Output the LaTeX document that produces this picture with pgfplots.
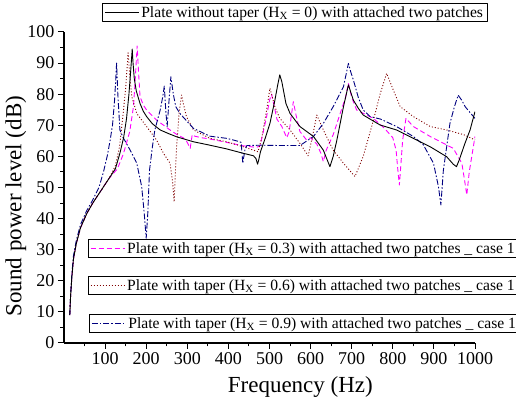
\documentclass[border=0pt]{standalone}
\usepackage{fontspec}
\setmainfont{Liberation Serif}
\newfontfamily\tnr{Liberation Serif}
\usepackage{pgfplots}
\pgfplotsset{compat=1.18}
\definecolor{cpink}{RGB}{255,0,255}
\definecolor{cwine}{RGB}{128,0,0}
\definecolor{cnavy}{RGB}{0,0,128}
\pgfplotsset{
  mylegend/.style={
    legend style={draw=black, line width=0.8pt, fill=white,
      font=\tnr\fontsize{15.6}{18}\selectfont, inner xsep=2pt, inner ysep=1pt},
    legend cell align=left,
    legend image code/.code={\draw[##1,line width=0.9pt] (0pt,0pt) -- (34pt,0pt);}
  },
  sameframe/.style={at={(64pt,60pt)}, anchor=south west, scale only axis,
    width=411pt, height=311pt},
  pinkst/.style={cpink, line width=0.9pt, dash pattern=on 5pt off 3pt},
  redst/.style={cwine, line width=0.9pt, dash pattern=on 1pt off 2pt},
  bluest/.style={cnavy, line width=0.9pt, dash pattern=on 6pt off 2pt on 1.5pt off 2pt},
  blackst/.style={black, line width=0.9pt},
}
\begin{document}
\begin{tikzpicture}
\useasboundingbox (0,0) rectangle (516pt,403pt);
\begin{axis}[sameframe,
  xmin=0, xmax=1000, ymin=0, ymax=100,
  axis x line*=bottom, axis y line*=left,
  x axis line style={-}, y axis line style={-},
  axis line style={line width=1.2pt},
  xtick={100,200,...,1000}, ytick={0,10,...,100},
  minor xtick={50,150,...,950}, minor ytick={5,15,...,95},
  tick align=outside,
  major tick length=6pt, minor tick length=3.5pt,
  every tick/.style={black, line width=1pt},
  tick label style={font=\tnr\fontsize{18}{20}\selectfont},
  /pgf/number format/assume math mode=true,
  /pgf/number format/1000 sep={},
  xlabel={Frequency (Hz)}, ylabel={Sound power level (dB)},
  label style={font=\tnr\fontsize{23}{26}\selectfont},
  xlabel style={at={(axis description cs:0.575,-0.14)}, anchor=center},
  ylabel style={at={(axis description cs:-0.117,0.44)}, anchor=center},
  line join=round,
  mylegend, legend style={at={(0.0925,1.093)}, anchor=north west},
]
\addplot[pinkst, forget plot] coordinates {
(14,9) (16,15) (19,21) (23,27) (30,32) (40,37) (55,41.5) (70,45) (90,49) (110,53)
(130,56) (145,61) (160,68) (169,76) (173,84) (176,91) (178,95.5) (181,88) (185,79.2) (193,76.5) (201,74.9) (225,71.7) (258,68.5) (275,67) (290,66) (300,64.5) (307,62.6) (312,67) (318,66.5) (335,66) (355,65.6) (396,64.5) (436,63.4) (468,62.9) (477,63.4) (485,68) (493,72.8) (500,78) (505,80) (510,77) (518,72) (530,69.6) (542,66) (548,68) (553,73) (558,77.6) (565,73) (574,68) (590,65.3) (600,66) (615,64) (625,61) (631,58.3) (638,62) (655,67) (672,73.8) (685,79) (692,83.5) (700,79) (712,74.9) (753,72.2) (780,69) (800,66) (808,62) (812,56) (816,50.8) (820,58) (824,65.3) (832,72.2) (850,69.6) (891,66.4) (947,62.6) (968,57.8) (975,52) (980,47.6) (986,55) (1000,66.4)
};
\addplot[redst, forget plot] coordinates {
(14,9) (16,15) (19,21) (23,27) (30,32) (40,37) (55,41.5) (70,45) (90,49) (110,53)
(125,57) (135,63) (144,73.8) (150,82) (156,93.3) (160,86) (165,79.2) (177,73.8) (201,69.6) (225,65.3) (242,61) (258,57.8) (264,52) (268,45.4) (271,55) (274,63.1) (280,73.8) (286,79.7) (292,76) (298,72.8) (315,68.5) (355,65.8) (396,64.7) (436,63.1) (461,62) (472,61.5) (481,65.8) (493,74.9) (501,81.9) (507,79) (513,76) (525,72.2) (550,68.5) (574,64.2) (594,60.2) (604,66) (615,73.3) (631,68.5) (655,62) (680,57.8) (708,53.5) (728,60) (753,71.7) (769,80) (785,86.7) (801,81.4) (818,76) (850,72.8) (891,69.6) (931,68.5) (972,67) (1000,65.3)
};
\addplot[bluest, forget plot] coordinates {
(14,9) (16,15) (19,22) (23,28) (30,33) (40,38) (55,42.5) (70,46) (85,50) (96,55) (105,60) (112,65) (118,70) (123,78) (126,85) (128,90) (131,80) (136,68.5) (144,66) (152,64.2) (165,61) (177,57.8) (189,50.3) (195,42) (200,33.7) (204,42) (208,55.5) (215,63) (221,68.5) (234,74.9) (240,79) (244,82.6) (248,74) (251,69.6) (255,77) (260,85.6) (266,80) (272,76) (282,73.8) (315,69) (355,66.5) (396,65.8) (411,65.3) (425,64.8) (431,64.5) (435,57.8) (440,62) (445,63.5) (480,63.6) (525,63.5) (574,63.5) (607,66.4) (631,70.6) (655,76) (680,82.4) (692,89.9) (698,87) (704,84.6) (716,79) (728,74.9) (745,72.8) (770,72) (809,69.6) (850,66.4) (874,63.8) (899,57.8) (911,50.3) (917,44.4) (923,55.5) (939,70.6) (950,76) (959,79.7) (968,78) (976,76) (1000,72.2)
};
\addplot[blackst] coordinates {
(14,9) (16,15) (19,21) (23,27) (30,32) (40,37) (55,41.5) (70,45) (90,49) (110,53)
(125,56) (136,61) (145,66) (152,72) (158,80) (162,87) (166,94.5) (168,90) (171,85) (176,81) (185,77) (193,74.5) (201,72.8) (215,70.5) (234,68.5) (255,67.3) (274,66.3) (315,64.7) (355,63.6) (396,62.4) (436,61) (461,60.2) (467,59.3) (471,57.5) (474,59) (478,61.5) (490,66) (501,70.6) (513,78) (520,83) (525,86.2) (530,84) (540,77) (550,73.8) (574,69.6) (607,66.4) (631,62) (640,59) (647,56.7) (655,60) (664,65.3) (680,76) (692,83) (698,80.5) (704,78.1) (716,75.5) (728,73.3) (769,70.1) (809,68.5) (850,65.8) (891,63.1) (931,59.9) (947,57.5) (955,56.7) (962,59) (975,64) (988,68.5) (1000,74.4)
};
\addlegendentry{Plate without taper (H\textsubscript{X} = 0) with attached two patches}
\end{axis}
\begin{axis}[sameframe, hide axis, xmin=0, xmax=1, ymin=0, ymax=1,
  mylegend, legend style={at={(0.058,0.334)}, anchor=north west}]
\addlegendimage{pinkst}
\addlegendentry{Plate with taper (H\textsubscript{X} = 0.3) with attached two patches \_ case 1\hspace*{8pt}}
\end{axis}
\begin{axis}[sameframe, hide axis, xmin=0, xmax=1, ymin=0, ymax=1,
  mylegend, legend style={at={(0.058,0.215)}, anchor=north west}]
\addlegendimage{redst}
\addlegendentry{Plate with taper (H\textsubscript{X} = 0.6) with attached two patches \_ case 1\hspace*{8pt}}
\end{axis}
\begin{axis}[sameframe, hide axis, xmin=0, xmax=1, ymin=0, ymax=1,
  mylegend, legend style={at={(0.061,0.093)}, anchor=north west}]
\addlegendimage{bluest}
\addlegendentry{Plate with taper (H\textsubscript{X} = 0.9) with attached two patches \_ case 1\hspace*{8pt}}
\end{axis}
\end{tikzpicture}
\end{document}
